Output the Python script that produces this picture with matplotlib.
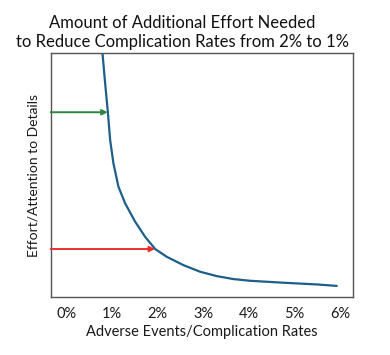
import matplotlib
matplotlib.use('Agg')
import matplotlib.pyplot as plt

# curve (x in %, effort on a 0-100 scale)
rate = [0.785, 0.844, 0.904, 0.954, 1.026, 1.136, 1.283, 1.502, 1.721, 1.941,
        2.197, 2.561, 2.928, 3.294, 3.658, 4.024, 4.754, 5.487, 5.925]
effort = [100, 87.6, 75.7, 64.3, 54.8, 45.2, 38.4, 30.9, 24.7, 19.7,
          16.5, 13.1, 10.4, 8.6, 7.4, 6.7, 5.9, 5.2, 4.6]

x_ticks = [0, 1, 2, 3, 4, 5, 6]
x_labels = ['0%', '1%', '2%', '3%', '4%', '5%', '6%']

# arrows: (end x, y level)
green_arrow = (0.90, 75.7)
red_arrow = (1.94, 19.7)

plt.rcParams['font.family'] = ['Lato', 'DejaVu Sans']

fig = plt.figure(figsize=(3.9, 3.55), dpi=100)
ax = fig.add_axes([0.130, 0.163, 0.775, 0.688])

ax.plot(rate, effort, color='#1d5f8a', lw=1.6, solid_capstyle='round',
        solid_joinstyle='round')

x0 = -0.35
for (xe, ye), col in [(green_arrow, '#2e8540'), (red_arrow, '#e8302a')]:
    ax.annotate('', xy=(xe, ye), xytext=(x0, ye),
                arrowprops=dict(arrowstyle='-|>', color=col, lw=1.4,
                                mutation_scale=8, shrinkA=0, shrinkB=0))

ax.set_xlim(x0, 6.28)
ax.set_ylim(0, 100)
ax.set_xticks(x_ticks)
ax.set_xticklabels(x_labels, fontsize=10.5, color='#1a1a1a')
ax.set_yticks([])
ax.tick_params(axis='x', length=0, pad=7)
for s in ax.spines.values():
    s.set_color('#555555')
    s.set_linewidth(1.0)

ax.set_xlabel('Adverse Events/Complication Rates', fontsize=10.5, color='#1a1a1a', labelpad=3)
ax.set_ylabel('Effort/Attention to Details', fontsize=10, color='#1a1a1a', labelpad=8)
fig.text(0.467, 1 - 47 / 355, 'Amount of Additional Effort Needed\nto Reduce Complication Rates from 2% to 1%',
         ha='center', va='baseline', fontsize=12, color='#111111', linespacing=1.2)

fig.savefig('out.png', dpi=100)
